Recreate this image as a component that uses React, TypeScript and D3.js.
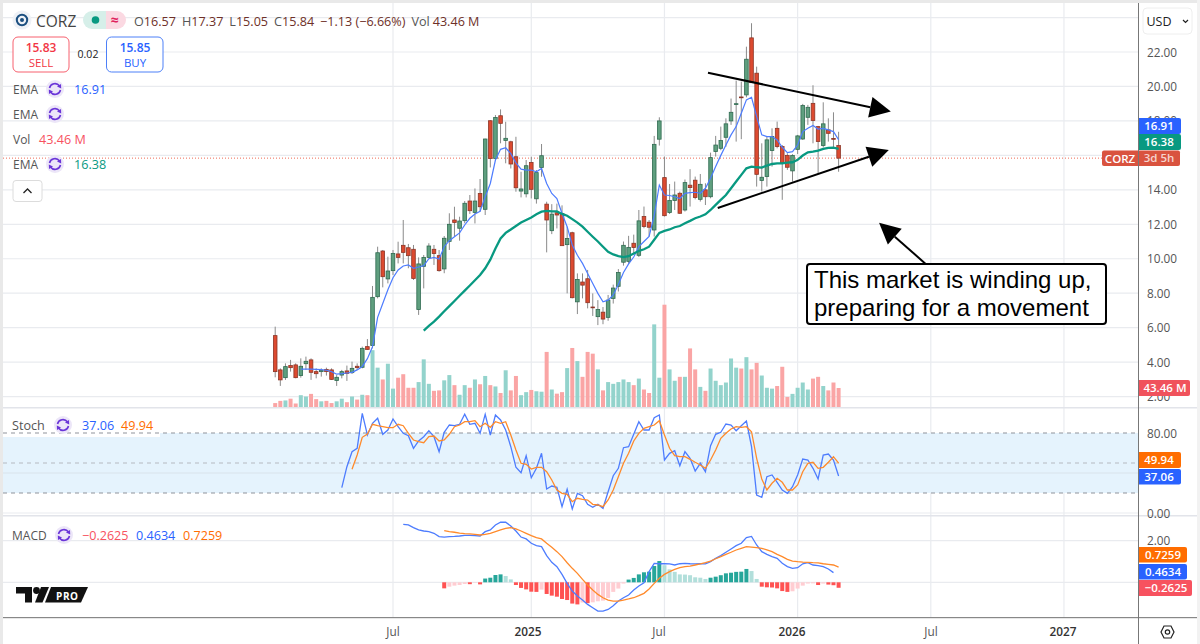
import React from "react";
import * as d3 from "d3";

const W = 1200, H = 644;
const FONT = "'Open Sans', sans-serif";

// weekly candles
const opens = [5.54,3.55,3.10,3.80,3.84,3.22,3.91,4.13,3.45,3.45,3.58,3.55,2.93,3.25,3.49,3.39,3.76,3.70,4.90,4.96,7.80,10.45,8.83,9.31,10.28,10.78,10.64,10.55,7.05,9.56,10.08,10.55,10.18,9.41,11.01,12.25,11.77,12.21,13.35,12.69,13.79,12.87,18.01,15.82,18.30,16.87,16.79,15.92,13.93,13.77,15.59,13.48,15.30,13.17,11.63,12.67,12.63,10.82,11.51,7.50,8.65,8.84,7.20,6.64,6.90,6.60,7.70,8.40,9.80,9.85,10.90,10.20,12.45,12.12,11.67,16.94,14.71,12.68,13.38,13.80,12.83,14.27,14.56,13.45,14.00,13.60,16.22,16.41,17.05,18.00,18.95,19.39,19.51,22.82,20.77,14.54,14.77,16.28,17.57,16.51,16.00,15.10,16.35,16.95,18.21,19.02,17.67,16.57,17.48,16.98,16.57];
const highs = [6.06,3.64,3.93,4.13,3.93,4.22,4.32,4.22,3.64,3.64,3.68,3.64,3.25,3.55,3.80,4.03,3.93,4.90,5.34,8.42,10.70,10.51,10.12,10.51,10.99,12.25,10.86,10.80,10.08,10.22,10.90,10.80,10.51,11.32,12.64,13.02,12.44,13.35,13.70,14.08,14.63,16.97,18.05,18.34,18.67,17.95,16.85,17.08,15.05,15.73,15.92,15.15,16.66,13.31,13.17,13.20,13.10,11.86,11.57,9.15,9.15,9.35,7.99,7.60,7.20,7.90,8.50,9.40,11.00,11.33,11.40,12.83,13.03,12.25,17.13,18.21,15.93,14.34,14.48,13.90,14.60,15.20,14.77,14.92,14.38,16.16,17.13,17.67,18.15,19.30,20.34,20.28,22.31,23.67,21.15,16.70,17.09,17.57,17.96,16.60,16.12,16.07,17.19,18.99,18.93,20.07,17.71,19.08,18.15,18.50,17.37];
const lows = [3.12,2.62,2.97,3.45,3.06,3.10,3.55,2.97,3.06,3.16,3.22,2.97,2.62,3.06,2.91,3.31,3.55,3.64,4.71,4.80,7.70,8.34,8.57,9.06,9.73,9.73,9.45,8.77,6.74,8.28,10.03,9.64,9.25,9.16,10.51,11.28,11.05,12.06,12.60,12.05,12.73,12.54,15.30,15.70,16.70,15.54,15.24,13.89,13.56,13.56,13.50,13.20,14.76,10.37,11.43,11.76,10.76,7.99,7.70,6.79,7.70,7.12,6.68,6.15,6.20,6.40,7.40,8.10,9.60,9.70,10.30,10.10,11.77,11.29,11.29,16.57,12.45,12.60,12.83,12.60,12.74,13.03,13.45,13.32,13.12,13.51,15.93,16.30,16.50,17.77,16.80,16.94,19.37,20.22,14.19,13.90,14.19,15.35,16.41,13.42,15.16,14.48,16.08,16.90,17.77,16.70,14.96,16.47,16.80,16.47,15.05];
const closes = [3.45,2.97,3.74,3.68,3.10,3.76,4.05,3.41,3.33,3.53,3.45,3.00,3.12,3.45,3.35,3.64,3.68,4.80,4.74,7.76,10.35,8.96,9.29,10.31,10.08,10.37,10.18,8.86,9.70,10.08,10.74,10.30,9.31,11.19,12.00,12.11,12.19,13.22,12.79,13.35,13.02,16.95,15.82,18.20,17.86,16.99,15.50,14.12,14.05,15.40,14.03,15.00,15.98,12.25,12.59,12.54,10.76,11.18,7.74,8.80,8.47,7.45,7.18,7.06,6.50,7.60,8.30,9.20,10.78,10.66,10.65,12.20,11.87,11.83,16.64,18.00,12.50,13.38,13.70,12.64,14.42,14.13,13.55,14.32,13.60,15.87,16.60,16.86,17.83,18.50,19.00,19.35,21.58,20.22,14.90,14.73,16.90,17.09,16.51,15.58,15.31,15.99,17.13,18.89,18.79,18.02,16.80,17.83,17.28,16.97,15.84];
const volumes = [9,14,15,19,8,27,24,30,18,13,14,9,13,19,11,24,17,28,27,130,90,63,99,42,67,75,44,44,57,109,53,37,38,61,73,50,28,50,44,63,52,71,50,47,32,84,38,71,27,34,39,36,35,126,40,30.5,34,89,135,105,69,126,122,86,38,57,53,57,63,57,50,65,40,32,189,67,234,86,60,69,69,134,86,46,37,88,60,50,56,111,90,88,114,86,101,72,44,42,48,92,23,30,44,56,40,65,69,48,38,56,43.46];

const fastEmaStart = 5;
const fastEma = [3.6,3.6,3.6,3.58,3.56,3.53,3.45,3.3,3.33,3.37,3.41,3.55,3.75,4.2,4.9,6.6,7.4,8.2,8.9,9.35,9.58,9.64,9.45,9.52,9.6,10.0,10.08,9.98,10.7,11.05,11.28,11.5,11.96,12.35,12.6,12.75,13.6,14.37,15.73,16.35,16.44,16.1,15.57,15.2,15.15,15.15,15.05,15.24,14.37,13.79,13.5,12.63,11.86,10.8,10.2,9.73,9.15,8.57,7.99,7.5,7.6,7.9,8.5,9.2,9.7,10.1,10.7,11.0,11.29,12.5,14.28,13.7,13.67,13.6,13.5,13.8,13.84,13.86,13.8,14.09,14.67,15.35,16.0,16.6,17.19,17.67,18.44,19.22,19.37,18.25,17.19,17.09,17.09,16.9,16.47,16.16,16.22,16.6,17.38,17.57,17.73,17.53,17.57,17.48,17.38,16.91];
const slowEmaStart = 29;
const slowEma = [5.83,6.1,6.35,6.64,6.95,7.25,7.55,7.85,8.15,8.45,8.75,9.06,9.45,9.95,10.6,11.18,11.5,11.7,11.9,12.1,12.25,12.4,12.58,12.73,12.78,12.75,12.75,12.6,12.5,12.3,12.1,11.86,11.57,11.28,11.0,10.7,10.4,10.25,10.15,10.1,10.15,10.3,10.45,10.55,10.7,11.1,11.5,11.62,11.7,11.83,11.9,12.06,12.2,12.35,12.45,12.58,12.83,13.13,13.42,13.7,14.09,14.48,14.87,15.25,15.35,15.31,15.29,15.41,15.5,15.54,15.54,15.58,15.6,15.74,15.99,16.18,16.22,16.28,16.38,16.43,16.45,16.38];

const stochKStart = 13;
const stochK = [25.3,46.3,61.3,64.7,99.7,78,89.7,94.7,78.7,83,94,86.3,79.7,77.3,64.7,72,76.3,82.3,76.3,61.3,80.7,88,87.3,88.7,98.7,88.7,89.7,79.7,98.7,78,98,93,83,66.3,45.7,40.3,57.3,35.3,44.7,59.7,24,27,25.7,6.3,23.7,4,19.7,17.3,8.7,5.7,8.7,4.7,21.3,37.3,44.7,65.3,66.3,78.7,91.3,83,83,95.3,98,53,59.7,62.3,47.3,61.3,54.7,42,49.7,41.3,67.3,78.7,80.7,89,88,82.3,87.3,92,66.3,18,15.7,36.3,38,30.7,23,19.7,26.3,38,54,53,44.7,34,58,59,53,37.06];
const stochDStart = 15;
const stochD = [43.7,58,75.7,79,88.7,87.3,86.3,85.3,85.3,88.7,87.3,79.7,73,71.3,70.3,76.3,77,72,73,78.7,86.3,88,91.3,91.3,92.3,86.3,89.7,85.7,91.3,89.7,91.3,78,63,49.7,48.7,44,45.7,45.7,41.3,33,23,19.7,18.7,11.3,14.7,13.7,13,8.7,8,6.3,13,23,36.3,49.7,59.7,72,79.7,84.7,86.3,88,92.3,78,64.7,57.3,56.3,56.3,53.7,50.7,48,44.7,53,63,74.7,79.7,84,86.3,85.7,86.3,81.3,54.7,34,23,29.7,34.7,30.7,23,23,28,41.3,49.7,50.7,44.7,45.7,50.7,56.3,49.94];

const macdStart = 25;
const macdLine = [2.78,2.75,2.62,2.51,2.46,2.43,2.35,2.19,2.17,2.19,2.2,2.22,2.25,2.25,2.24,2.22,2.43,2.51,2.75,2.88,2.88,2.70,2.46,2.17,2.08,1.87,1.76,1.71,1.28,0.96,0.75,0.38,-0.05,-0.42,-0.66,-0.85,-1.06,-1.22,-1.38,-1.38,-1.30,-1.12,-0.90,-0.74,-0.61,-0.37,-0.18,-0.02,0.51,0.91,0.89,0.89,0.88,0.83,0.89,0.91,0.89,0.88,0.89,0.88,0.99,1.15,1.28,1.44,1.6,1.76,1.87,2.14,2.2,1.79,1.47,1.34,1.23,1.15,0.91,0.75,0.67,0.70,0.89,0.94,0.83,0.8,0.75,0.64,0.4634];
const signalStart = 33;
const signalLine = [2.48,2.43,2.4,2.36,2.33,2.32,2.3,2.27,2.3,2.35,2.43,2.51,2.59,2.62,2.56,2.46,2.35,2.24,2.14,2.08,1.87,1.68,1.47,1.23,0.94,0.67,0.43,0.14,-0.13,-0.37,-0.58,-0.74,-0.85,-0.9,-0.9,-0.85,-0.8,-0.74,-0.64,-0.53,-0.32,-0.05,0.19,0.38,0.51,0.62,0.7,0.75,0.78,0.83,0.88,0.94,1.02,1.13,1.23,1.34,1.44,1.55,1.63,1.71,1.69,1.66,1.63,1.55,1.47,1.34,1.23,1.1,1.02,0.99,0.97,0.96,0.94,0.93,0.89,0.86,0.83,0.7259];
const histStart = 33;
const histValues = [-0.29,-0.21,-0.16,-0.13,-0.08,-0.09,-0.02,-0.1,0.18,0.22,0.35,0.38,0.30,0.14,-0.13,-0.27,-0.34,-0.45,-0.46,-0.35,-0.56,-0.64,-0.69,-0.8,-0.85,-1.02,-1.06,-0.97,-1.0,-0.96,-0.91,-0.88,-0.75,-0.46,-0.3,-0.06,0.13,0.21,0.38,0.48,0.51,0.78,1.02,0.82,0.62,0.5,0.38,0.37,0.34,0.24,0.22,0.16,0.22,0.27,0.34,0.43,0.46,0.5,0.51,0.64,0.54,0.16,-0.21,-0.24,-0.25,-0.29,-0.42,-0.46,-0.43,-0.3,-0.16,-0.06,-0.05,-0.13,-0.06,-0.11,-0.14,-0.2625];

const priceTicks = [24,22,20,18,16,14,12,10,8,6,4,2];
const priceLabels = [22,20,18,14,12,10,8,6,4,2];
const timeIdx = [23,50,76,102,128,154];
const timeLabels = ["Jul","2025","Jul","2026","Jul","2027"];
const timeLabelX = [393,528,659,792,931,1063];

const x = d3.scaleLinear().domain([0, 110]).range([275.2, 838.6]);
const yP = d3.scaleLinear().domain([22, 2]).range([52, 396.6]);
const yV = d3.scaleLinear().domain([0, 43.46]).range([407, 388]);
const yS = d3.scaleLinear().domain([0, 100]).range([513, 413]);
const yM = d3.scaleLinear().domain([0, 2]).range([582.3, 540.6]);

const path = (arr: number[], start: number, y: (v: number) => number) =>
  d3.line<number>().x((_, i) => x(i + start)).y((v) => y(v))(arr) || "";

const GRID = "#e9ebef";
const Refresh = ({ cx, cy }: { cx: number; cy: number }) => (
  <g>
    <circle cx={cx} cy={cy} r={9} fill="#ece6f8" />
    <path d={`M${cx - 5.5},${cy - 1} A5.6,5.6 0 0 1 ${cx + 4.5},${cy - 3}`} fill="none" stroke="#6a35d8" strokeWidth={1.6} />
    <path d={`M${cx + 5.5},${cy + 1} A5.6,5.6 0 0 1 ${cx - 4.5},${cy + 3}`} fill="none" stroke="#6a35d8" strokeWidth={1.6} />
    <path d={`M${cx + 2},${cy - 2.4} L${cx + 6.2},${cy - 0.6} L${cx + 6},${cy - 5} Z`} fill="#6a35d8" />
    <path d={`M${cx - 2},${cy + 2.4} L${cx - 6.2},${cy + 0.6} L${cx - 6},${cy + 5} Z`} fill="#6a35d8" />
  </g>
);

const Tag = ({ y0, y1, x1, fill, text, tc = "#fff", anchorX = 1159 }: any) => (
  <g>
    <path d={`M1139,${y0} H${x1 - 2} Q${x1},${y0} ${x1},${y0 + 2} V${y1 - 2} Q${x1},${y1} ${x1 - 2},${y1} H1139 Z`} fill={fill} />
    <text x={anchorX} y={(y0 + y1) / 2 + 4.2} textAnchor="middle" fontSize={11.5} fontWeight={600} fill={tc}>{text}</text>
  </g>
);

const Arrow = ({ from, to, len, half }: { from: [number, number]; to: [number, number]; len: number; half: number }) => {
  const ax = x(from[0]), ay = yP(from[1]), bx = x(to[0]), by = yP(to[1]);
  const d = Math.hypot(bx - ax, by - ay), ux = (bx - ax) / d, uy = (by - ay) / d;
  const cx = bx - ux * len, cy = by - uy * len;
  return (
    <g>
      <line x1={ax} y1={ay} x2={cx} y2={cy} stroke="#000" strokeWidth={2} />
      <path d={`M${bx},${by} L${cx - uy * half},${cy + ux * half} L${cx + uy * half},${cy - ux * half} Z`} fill="#000" />
    </g>
  );
};

const App = () => {
  const n = closes.length;
  const bw = 3.6;
  return (
    <svg width={W} height={H} viewBox={`0 0 ${W} ${H}`} style={{ position: "fixed", left: 0, top: 0, background: "#fff" }} fontFamily={FONT}>
      <rect width={W} height={H} fill="#fff" />
      {/* frame */}
      <rect x={0} y={0} width={W} height={3} fill="#e9e9e9" />
      <rect x={0} y={0} width={3} height={H} fill="#e9e9e9" />
      <rect x={1197} y={0} width={3} height={H} fill="#f2f2f2" />

      {/* grid main */}
      {priceTicks.map((t) => <line key={t} x1={3} x2={1138} y1={yP(t)} y2={yP(t)} stroke={GRID} strokeWidth={1.2} />)}
      {timeIdx.map((t) => <line key={t} x1={x(t)} x2={x(t)} y1={3} y2={617} stroke={GRID} strokeWidth={1.2} />)}

      {/* stoch band */}
      <rect x={3} y={yS(80)} width={1135} height={yS(20) - yS(80)} fill="#e5f3fd" />
      <line x1={3} x2={1138} y1={yS(40)} y2={yS(40)} stroke="#d9e3ec" strokeWidth={1.2} />
      <line x1={3} x2={1138} y1={yS(0)} y2={yS(0)} stroke={GRID} strokeWidth={1.2} />
      <line x1={3} x2={1138} y1={yS(50)} y2={yS(50)} stroke="#b5b9c0" strokeDasharray="4 4" />
      <rect x={3} y={yS(80)} width={157} height={4} fill="#fff" />
      <line x1={3} x2={1138} y1={yS(80)} y2={yS(80)} stroke="#90949b" strokeDasharray="4 4" strokeWidth={1.1} />
      <line x1={3} x2={1138} y1={yS(20)} y2={yS(20)} stroke="#90949b" strokeDasharray="4 4" strokeWidth={1.1} />
      {/* macd grid */}
      <line x1={3} x2={1138} y1={yM(2)} y2={yM(2)} stroke={GRID} strokeWidth={1.2} />
      <line x1={3} x2={1138} y1={yM(0)} y2={yM(0)} stroke={GRID} strokeWidth={1.2} />

      {/* last price dotted */}
      <line x1={3} x2={1138} y1={yP(closes[n - 1])} y2={yP(closes[n - 1])} stroke="#ef6a55" strokeDasharray="1 2" />

      {/* volume */}
      {volumes.map((v, i) => (
        <rect key={i} x={x(i) - 2} width={4} y={yV(v)} height={yV(0) - yV(v)} fill={closes[i] >= opens[i] ? "#93d3cc" : "#faa5a5"} />
      ))}

      {/* candles */}
      {closes.map((c, i) => {
        const up = c >= opens[i];
        const top = yP(Math.max(c, opens[i]));
        const bot = yP(Math.min(c, opens[i]));
        return (
          <g key={i}>
            <line x1={x(i)} x2={x(i)} y1={yP(highs[i])} y2={yP(lows[i])} stroke="#8a8a8a" strokeWidth={1} />
            <rect x={x(i) - bw / 2} width={bw} y={top} height={Math.max(bot - top, 0.8)}
              fill={up ? "#5f9f7f" : "#dc4a30"} stroke={up ? "#2f6a50" : "#8c3526"} strokeWidth={0.8} />
          </g>
        );
      })}

      {/* EMA */}
      <path d={path(fastEma, fastEmaStart, yP)} fill="none" stroke="#4d7cfe" strokeWidth={1.2} />
      <path d={path(slowEma, slowEmaStart, yP)} fill="none" stroke="#089981" strokeWidth={2.3} />

      {/* stoch */}
      <path d={path(stochK, stochKStart, yS)} fill="none" stroke="#4d7cfe" strokeWidth={1.3} />
      <path d={path(stochD, stochDStart, yS)} fill="none" stroke="#ff8a2b" strokeWidth={1.3} />

      {/* macd hist */}
      {histValues.map((v, i) => {
        const prev = i > 0 ? histValues[i - 1] : v;
        const fill = v >= 0 ? (v >= prev ? "#26a69a" : "#b2dfdb") : (v <= prev ? "#ff5252" : "#ffcdd2");
        const a = yM(Math.max(v, 0)), b = yM(Math.min(v, 0));
        return <rect key={i} x={x(i + histStart) - 2} width={4} y={a} height={b - a} fill={fill} />;
      })}
      <path d={path(macdLine, macdStart, yM)} fill="none" stroke="#4d7cfe" strokeWidth={1.3} />
      <path d={path(signalLine, signalStart, yM)} fill="none" stroke="#ff8a2b" strokeWidth={1.3} />

      {/* annotations */}
      <Arrow from={[84.5, 20.8]} to={[120.2, 18.54]} len={21} half={10.5} />
      <Arrow from={[86.4, 12.95]} to={[119.8, 16.31]} len={21} half={10.5} />
      <Arrow from={[127, 9.7]} to={[117.9, 12.09]} len={21} half={10.5} />
      <rect x={807} y={264} width={299} height={60} rx={3} fill="#fff" stroke="#000" strokeWidth={2} />
      <text x={814} y={288} fontSize={24} fontFamily="'Liberation Sans', Arial, sans-serif" fill="#000">This market is winding up,</text>
      <text x={814} y={316} fontSize={24} fontFamily="'Liberation Sans', Arial, sans-serif" fill="#000">preparing for a movement</text>

      {/* pane separators + axis */}
      <rect x={3} y={407} width={1194} height={1.5} fill="#e2e4ea" />
      <rect x={3} y={515} width={1194} height={1.5} fill="#e2e4ea" />
      <rect x={3} y={617} width={1194} height={1.2} fill="#888" />
      <rect x={1138} y={3} width={1} height={641} fill="#777" />

      {/* axis labels */}
      {priceLabels.map((t) => <text key={t} x={1147} y={yP(t) + 4.5} fontSize={11.8} fill="#555">{t.toFixed(2)}</text>)}
      <text x={1147} y={yS(80) + 4.5} fontSize={11.8} fill="#555">80.00</text>
      <text x={1147} y={yS(0) + 4.5} fontSize={11.8} fill="#555">0.00</text>
      <text x={1147} y={yM(2) + 4.5} fontSize={11.8} fill="#555">2.00</text>
      {timeLabels.map((t, i) => (
        <text key={i} x={timeLabelX[i]} y={636} textAnchor="middle" fontSize={11.8} fill={t.length > 3 ? "#333" : "#555"} fontWeight={t.length > 3 ? 600 : 400}>{t}</text>
      ))}

      {/* tags */}
      <Tag y0={118} y1={134} x1={1181} fill="#2962ff" text="16.91" />
      <Tag y0={134} y1={150} x1={1181} fill="#089981" text="16.38" />
      <path d="M1104,150.5 H1138 V166 H1104 Q1102,166 1102,164 V152.5 Q1102,150.5 1104,150.5 Z" fill="#d9533f" />
      <text x={1120} y={162.5} textAnchor="middle" fontSize={11.5} fontWeight={600} fill="#fff">CORZ</text>
      <Tag y0={150.5} y1={166} x1={1180} fill="#d9533f" text="3d 5h" tc="#f6d4cf" />
      <Tag y0={380} y1={396} x1={1190} fill="#f0525c" text="43.46 M" anchorX={1165} />
      <Tag y0={452} y1={468} x1={1181} fill="#ff6d00" text="49.94" />
      <Tag y0={469} y1={484.5} x1={1181} fill="#2962ff" text="37.06" />
      <Tag y0={547} y1={562.5} x1={1187} fill="#ff6d00" text="0.7259" anchorX={1163} />
      <Tag y0={564} y1={579.5} x1={1187} fill="#2962ff" text="0.4634" anchorX={1163} />
      <Tag y0={580} y1={596} x1={1192} fill="#f7525f" text="−0.2625" anchorX={1166} />

      {/* USD button */}
      <rect x={1143} y={8} width={49} height={26} rx={4} fill="#fff" stroke="#eeeeee" />
      <text x={1146.5} y={26} fontSize={12.5} fill="#222">USD</text>
      <path d="M1183,20 l2.5,2.5 l2.5,-2.5" fill="none" stroke="#222" strokeWidth={1.2} />
      {/* gear */}
      <path d="M1161,632 l3,-6 h7 l3,6 l-3,6 h-7 Z" fill="none" stroke="#222" strokeWidth={1.2} />
      <circle cx={1167.5} cy={632} r={2.2} fill="none" stroke="#222" strokeWidth={1.2} />

      {/* header legend */}
      <circle cx={22} cy={20} r={9.5} fill="#eef1f6" />
      <circle cx={22} cy={20} r={5.2} fill="none" stroke="#1b4f80" strokeWidth={2} />
      <circle cx={22} cy={20} r={2} fill="#1b4f80" />
      <text x={36} y={26.5} fontSize={15.5} fill="#444">CORZ</text>
      <path d="M92,11 H106 V29 H92 A9,9 0 0 1 92,11 Z" fill="#d6efe9" />
      <path d="M106,11 H117 A9,9 0 0 1 117,29 H106 Z" fill="#fbd9e2" />
      <circle cx={95.5} cy={20} r={3.8} fill="#089981" />
      <text x={114.5} y={25} textAnchor="middle" fontSize={14} fontWeight={700} fill="#e0245e">≈</text>
      <text x={134} y={26} fontSize={12.6} xmlSpace="preserve">
        <tspan fill="#555">O</tspan><tspan fill="#6e3028">16.57</tspan>
        <tspan fill="#555" dx={6}>H</tspan><tspan fill="#6e3028">17.37</tspan>
        <tspan fill="#555" dx={6}>L</tspan><tspan fill="#6e3028">15.05</tspan>
        <tspan fill="#555" dx={6}>C</tspan><tspan fill="#6e3028">15.84</tspan>
        <tspan fill="#6e3028" dx={6}>−1.13 (−6.66%)</tspan>
        <tspan fill="#555" dx={6}>Vol</tspan><tspan fill="#6e3028" dx={3}>43.46 M</tspan>
      </text>

      <rect x={13} y={37} width={56} height={35} rx={5} fill="#fff" stroke="#f7606e" strokeWidth={1} />
      <text x={41} y={52} textAnchor="middle" fontSize={12} fontWeight={600} fill="#f23645">15.83</text>
      <text x={41} y={67} textAnchor="middle" fontSize={11.5} fill="#f23645">SELL</text>
      <text x={88} y={58} textAnchor="middle" fontSize={10.5} fill="#222">0.02</text>
      <rect x={106.5} y={37} width={56.5} height={35} rx={5} fill="#fff" stroke="#4d80f8" strokeWidth={1} />
      <text x={135} y={52} textAnchor="middle" fontSize={12} fontWeight={600} fill="#2962ff">15.85</text>
      <text x={135} y={67} textAnchor="middle" fontSize={11.5} fill="#2962ff">BUY</text>

      <text x={13} y={94} fontSize={12} fill="#555">EMA</text>
      <Refresh cx={55} cy={89} />
      <text x={74} y={94} fontSize={12.6} fill="#2962ff">16.91</text>
      <text x={13} y={119} fontSize={12} fill="#555">EMA</text>
      <Refresh cx={55} cy={114} />
      <text x={13} y={144} fontSize={12} fill="#555">Vol</text>
      <text x={39} y={144} fontSize={12.6} fill="#f7525f">43.46 M</text>
      <text x={13} y={169} fontSize={12} fill="#555">EMA</text>
      <Refresh cx={55} cy={164} />
      <text x={74} y={169} fontSize={12.6} fill="#089981">16.38</text>
      <rect x={13} y={180.5} width={29} height={21} rx={3} fill="#fff" stroke="#dcdcdc" />
      <path d="M23.5,193 l4,-4 l4,4" fill="none" stroke="#222" strokeWidth={1.3} />

      <text x={12} y={430} fontSize={12.6} fill="#555">Stoch</text>
      <Refresh cx={63} cy={425} />
      <text x={82} y={430} fontSize={12.6} fill="#2962ff">37.06</text>
      <text x={121} y={430} fontSize={12.6} fill="#ff6d00">49.94</text>

      <text x={12} y={540} fontSize={12} fill="#555">MACD</text>
      <Refresh cx={64} cy={535} />
      <text x={82} y={540} fontSize={12.6} fill="#f7525f">−0.2625</text>
      <text x={136} y={540} fontSize={12.6} fill="#2962ff">0.4634</text>
      <text x={183} y={540} fontSize={12.6} fill="#ff6d00">0.7259</text>

      {/* TV logo */}
      <path d="M16,587 H32 V602.5 H25 V593.5 H16 Z" fill="#111" />
      <circle cx={36.5} cy={590.5} r={3.4} fill="#111" />
      <path d="M35,602.5 L41,587 H49 L42.5,602.5 Z" fill="#111" />
      <path d="M51,587 H88 L81,602.5 H45 Z" fill="#111" />
      <text x={56} y={599.5} fontSize={10} fontWeight={700} fill="#fff" letterSpacing={0.6}>PRO</text>
    </svg>
  );
};

export default App;
